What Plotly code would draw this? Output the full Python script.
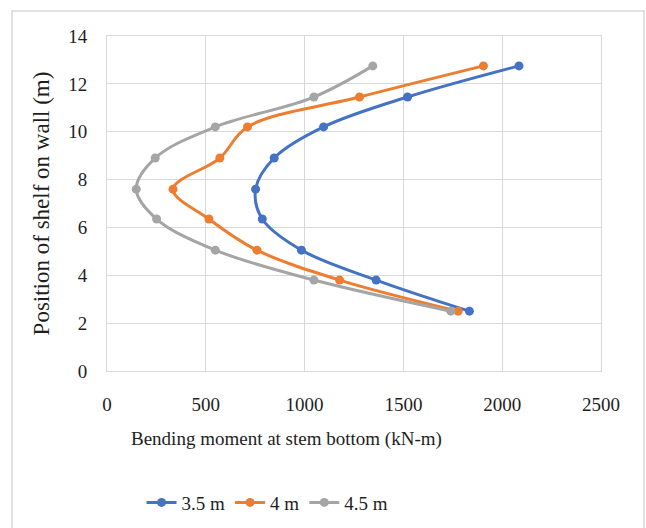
import plotly.graph_objects as go

positions = [2.5, 3.8, 5.05, 6.35, 7.6, 8.9, 10.2, 11.45, 12.75]
moment_35 = [1834, 1362, 984, 786, 752, 846, 1096, 1521, 2085]
moment_40 = [1777, 1177, 759, 516, 334, 571, 711, 1278, 1905]
moment_45 = [1740, 1047, 548, 251, 148, 244, 548, 1047, 1345]
series_names = ["3.5 m", "4 m", "4.5 m"]
colors = ["#4472C4", "#ED7D31", "#A5A5A5"]
x_ticks = [0, 500, 1000, 1500, 2000, 2500]
y_ticks = [0, 2, 4, 6, 8, 10, 12, 14]
x_title = "Bending moment at stem bottom (kN-m)"
y_title = "Position of shelf on wall (m)"

FONT = "Liberation Serif"
TXT = "#1e1e1e"

fig = go.Figure()
for name, vals, col in zip(series_names, [moment_35, moment_40, moment_45], colors):
    fig.add_trace(go.Scatter(
        x=vals, y=positions, name=name, mode="lines+markers",
        line=dict(color=col, width=3, shape="spline", smoothing=1),
        marker=dict(color=col, size=9),
    ))

grid = "#d9d9d9"
fig.update_layout(
    width=646, height=528,
    margin=dict(l=107, r=45, t=36, b=157, autoexpand=False),
    paper_bgcolor="white", plot_bgcolor="white",
    font=dict(family=FONT, size=19, color=TXT),
    showlegend=True,
    legend=dict(orientation="h", x=0.325, xanchor="center", y=-0.336, yanchor="top",
                font=dict(family=FONT, size=19, color=TXT), itemwidth=30, tracegroupgap=0),
    xaxis=dict(range=[0, 2500], tickvals=x_ticks, showgrid=True, gridcolor=grid, gridwidth=1,
               zeroline=False, showline=True, linecolor=grid, linewidth=1, mirror=True,
               automargin=False,
               ticks="", ticklabelstandoff=16, tickfont=dict(family=FONT, size=19, color=TXT)),
    yaxis=dict(range=[0, 14], tickvals=y_ticks, showgrid=True, gridcolor=grid, gridwidth=1,
               zeroline=False, showline=True, linecolor=grid, linewidth=1, mirror=True,
               automargin=False,
               ticks="", ticklabelstandoff=15, tickfont=dict(family=FONT, size=19, color=TXT),
               title=dict(text=y_title, font=dict(family=FONT, size=23, color=TXT), standoff=12)),
)
fig.add_annotation(text=x_title, xref="paper", yref="paper", x=0.364, y=-0.203,
                   xanchor="center", yanchor="middle", showarrow=False,
                   font=dict(family=FONT, size=19, color=TXT))
fig.add_shape(type="rect", xref="paper", yref="paper", x0=-0.1923, x1=1.087, y0=-0.55, y1=1.0746,
              line=dict(color=grid, width=1.5), layer="below")
fig.write_html("out.html", config={"displayModeBar": False},
               post_script="document.body.style.margin='0px';")
